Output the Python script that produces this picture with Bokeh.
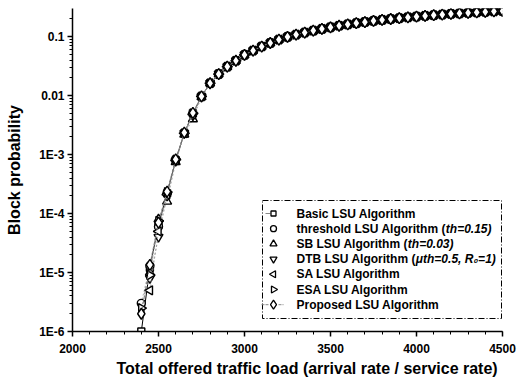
import math
from bokeh.plotting import figure
from bokeh.models import (Range1d, FixedTicker, SingleIntervalTicker, CustomJSTickFormatter,
                          ColumnDataSource, LinearScale, Title)
from bokeh.core.properties import value
from bokeh.embed import file_html
from bokeh.resources import INLINE

NaN = float("nan")

# x values: total offered traffic load
load = [2400 + 50 * i for i in range(43)]

# shared upper part of the curves (2800 .. 4500)
upper_common = [0.0162, 0.0232, 0.031, 0.039, 0.049, 0.058, 0.068, 0.078, 0.089, 0.099,
                0.108, 0.117, 0.126, 0.135, 0.144, 0.153, 0.161, 0.169, 0.177, 0.185,
                0.192, 0.199, 0.206, 0.213, 0.219, 0.225, 0.231, 0.237, 0.243, 0.248,
                0.253, 0.258, 0.263, 0.268, 0.272]

# lower part per series (2400 .. 2750)
basic_low = [1.0e-6, 1.2e-5, 6.5e-5, 2.2e-4, 8.0e-4, 2.3e-3, 5.0e-3, 9.7e-3]
threshold_low = [3.0e-6, 1.3e-5, 6.0e-5, 2.2e-4, 8.2e-4, 2.3e-3, 5.0e-3, 9.7e-3]
sb_low = [NaN, 1.0e-5, 8.0e-5, 1.6e-4, 7.5e-4, 2.2e-3, 4.0e-3, 9.5e-3]
dtb_low = [NaN, 8.0e-6, 4.0e-5, 2.0e-4, 7.8e-4, 2.3e-3, 4.6e-3, 9.6e-3]
sa_low = [NaN, 5.0e-6, 5.0e-5, 2.1e-4, 8.0e-4, 2.3e-3, 4.8e-3, 9.7e-3]
esa_low = [2.5e-6, 9.0e-6, 7.5e-5, 2.3e-4, 8.2e-4, 2.3e-3, 5.0e-3, 9.7e-3]
proposed_low = [2.0e-6, 1.35e-5, 7.0e-5, 2.35e-4, 8.3e-4, 2.35e-3, 5.1e-3, 9.7e-3]

# legend labels: upright part and italic parameter part
series_names = ["Basic LSU Algorithm",
                "threshold LSU Algorithm (",
                "SB LSU Algorithm (",
                "DTB LSU Algorithm (",
                "SA LSU Algorithm",
                "ESA LSU Algorithm",
                "Proposed LSU Algorithm"]
series_params = ["", "th=0.15)", "th=0.03)", "\u03bcth=0.5, R\u2080=1)", "", "", ""]
series_low = [basic_low, threshold_low, sb_low, dtb_low, sa_low, esa_low, proposed_low]

y_ticks = [1e-6, 1e-5, 1e-4, 1e-3, 1e-2, 1e-1]
y_tick_labels = ["1E-6", "1E-5", "1E-4", "1E-3", "0.01", "0.1"]
x_title = "Total offered traffic load (arrival rate / service rate)"
y_title = "Block probability"

FONT = "Liberation Sans"
W, H = 529, 381
BL, BR, BT, BB = 72, 27, 8, 50

p = figure(width=W, height=H, y_axis_type="log", output_backend="svg",
           toolbar_location=None, x_range=Range1d(2000, 4500), y_range=Range1d(1e-6, 0.3),
           min_border_left=BL, min_border_right=BR, min_border_top=BT, min_border_bottom=BB)
p.outline_line_color = None
p.grid.visible = False
p.background_fill_color = "white"
p.border_fill_color = "white"
# pixel-space ranges for the legend overlay (canvas coordinates, y downwards)
p.extra_x_ranges = {"px": Range1d(BL, W - BR)}
p.extra_y_ranges = {"py": Range1d(H - BB, BT)}
p.extra_x_scales = {"px": LinearScale()}
p.extra_y_scales = {"py": LinearScale()}

# axes
xa = p.xaxis[0]
xa.ticker = SingleIntervalTicker(interval=500, num_minor_ticks=5)
ya = p.yaxis[0]
minor = [k * 10.0 ** e for e in range(-6, 0) for k in range(2, 10)]
ya.ticker = FixedTicker(ticks=y_ticks, minor_ticks=minor)
ya.formatter = CustomJSTickFormatter(args=dict(tvals=y_ticks, tlabels=y_tick_labels), code="""
let best = 0, bd = 1e9;
for (let i = 0; i < tvals.length; i++) {
  const d = Math.abs(Math.log10(tvals[i]) - Math.log10(tick));
  if (d < bd) { bd = d; best = i; }
}
return tlabels[best];
""")
ya.axis_label = y_title
for ax in (xa, ya):
    ax.axis_line_width = 1.5
    ax.axis_line_color = "black"
    ax.major_tick_line_color = "black"
    ax.minor_tick_line_color = "black"
    ax.major_tick_line_width = 1.5
    ax.major_tick_in = 0
    ax.major_tick_out = 5
    ax.minor_tick_in = 0
    ax.minor_tick_out = 3
    ax.major_label_text_font = FONT
    ax.major_label_text_font_style = "bold"
    ax.major_label_text_font_size = "12px"
    ax.major_label_text_color = "black"
    ax.axis_label_text_font = FONT
    ax.axis_label_text_font_style = "bold"
    ax.axis_label_text_color = "black"
ya.axis_label_text_font_size = "16px"
xa.major_label_standoff = 7
ya.major_label_standoff = 3
ya.axis_label_standoff = 13

# x-axis title, slightly right of the frame centre as in the original
xt = Title(text=x_title, align="left", offset=44, standoff=4, text_font=FONT,
           text_font_style="bold", text_font_size="16px", text_color="black")
p.add_layout(xt, "below")

markers = [("square", 0.0, 7), ("circle", 0.0, 8), ("triangle", 0.0, 9),
           ("inverted_triangle", 0.0, 9), ("triangle", math.pi / 2, 9),
           ("triangle", -math.pi / 2, 9), ("diamond", 0.0, 11)]

for i, low in enumerate(series_low):
    vals = low + upper_common
    src = ColumnDataSource(dict(x=load, y=vals))
    if i == 0:
        p.line("x", "y", source=src, line_color="black", line_width=1.0)
    elif i == 6:
        p.line("x", "y", source=src, line_color="#777777", line_width=1.0, line_dash="3 2")
    else:
        p.line("x", "y", source=src, line_color="#999999", line_width=0.8, line_dash="2 2")
    m, ang, sz = markers[i]
    p.scatter("x", "y", source=src, marker=m, angle=ang, size=sz,
              fill_color="white", line_color="black", line_width=1.4)

# ---- legend overlay (pixel coordinates) ----
leg_left, leg_right, leg_top, leg_bottom = 262, 501, 200, 318
p.quad(left=leg_left, right=leg_right, top=leg_top, bottom=leg_bottom,
       fill_color="white", line_color="black", line_width=1, line_dash="6 2 1 2",
       x_range_name="px", y_range_name="py")
row0, row_step = 213, 15.2
mx, tx = 273, 296
rows = [row0 + row_step * i for i in range(len(series_names))]
# small line samples for Basic and Proposed
p.segment(x0=[mx - 8], y0=[rows[0]], x1=[mx - 3], y1=[rows[0]], line_color="#888888",
          line_width=1, x_range_name="px", y_range_name="py")
p.segment(x0=[mx - 12, mx + 5], y0=[rows[6], rows[6]], x1=[mx - 5, mx + 10], y1=[rows[6], rows[6]],
          line_color="#888888", line_width=1, line_dash="3 1",
          x_range_name="px", y_range_name="py")
for i in range(len(series_names)):
    m, ang, sz = markers[i]
    p.scatter(x=[mx], y=[rows[i]], marker=m, angle=ang, size=sz - 2,
              fill_color="white", line_color="black", line_width=1.3,
              x_range_name="px", y_range_name="py")
p.text(x=[tx] * len(rows), y=rows, text=series_names, text_font=value(FONT),
       text_font_style="bold", text_font_size="12px", text_baseline="middle",
       text_color="black", x_range_name="px", y_range_name="py")
# italic parameter parts, placed after the upright prefix (Liberation Sans Bold 12px advance widths)
prefix_w = {1: 149.3, 2: 111.3, 3: 119.3}
px_list = [tx + prefix_w[i] for i in (1, 2, 3)]
p.text(x=px_list, y=[rows[1], rows[2], rows[3]], text=[series_params[1], series_params[2], series_params[3]],
       text_font=value(FONT), text_font_style="bold italic", text_font_size="12px",
       text_baseline="middle", text_color="black", x_range_name="px", y_range_name="py")

open("out.html", "w").write(file_html(p, INLINE))
